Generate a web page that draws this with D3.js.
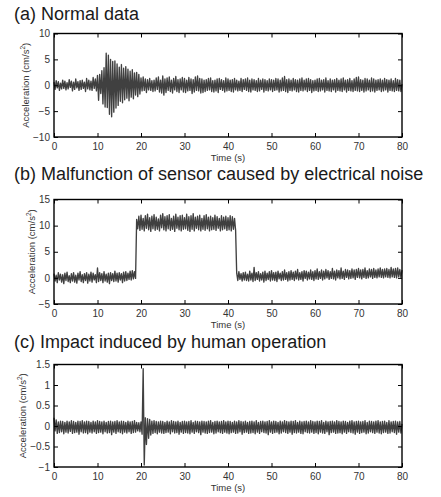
<!DOCTYPE html>
<html lang="en">
<head>
    <meta charset="UTF-8">
    <title>Acceleration records</title>
    <style>
        body { margin: 0; background: #fff; }
        svg { display: block; font-family: "Liberation Sans", Arial, Helvetica, sans-serif; }
        .tick text { fill: #333; font-size: 10px; }
        .tick line { stroke: #000; }
    </style>
</head>
<body>
    <div id="chart"></div>

    <script src="https://cdn.jsdelivr.net/npm/d3@7"></script>

    <script>
        // sample spacing of the records (s)
        const sampleStep = 0.25;

        const titles = [
            "(a) Normal data",
            "(b) Malfunction of sensor caused by electrical noise",
            "(c) Impact induced by human operation"
        ];

        const xTicks = [0, 10, 20, 30, 40, 50, 60, 70, 80];
        const yTicksA = [-10, -5, 0, 5, 10];
        const yTicksB = [-5, 0, 5, 10, 15];
        const yTicksC = [-1, -0.5, 0, 0.5, 1, 1.5];

        // (a) normal record
        const accelA = [
            0.6,-0.8,0.9,-0.5, 0.7,-1.0,0.4,-0.7, 1.0,-0.6,0.8,-0.9, 0.5,-0.7,1.1,-0.4, 0.8,-1.1,0.6,-0.8,
            1.2,-0.5,0.7,-1.0, 0.9,-0.8,1.0,-0.6, 0.6,-1.2,1.3,-0.7, 1.0,-0.9,0.8,-1.0, 1.5,-0.6,1.2,-1.1,
            1.9,-2.9,2.1,-1.6, 2.8,-3.6,3.4,-4.2, 6.2,-4.3,5.8,-5.6, 5.0,-6.1,4.6,-5.2, 4.7,-4.4,4.1,-3.9,
            3.5,-3.1,4.0,-3.4, 3.3,-2.8,3.6,-2.5, 3.1,-3.0,2.7,-2.3, 3.0,-2.6,2.4,-1.9, 2.5,-2.2,2.1,-1.7,
            1.4,-1.1,1.6,-1.0, 1.2,-1.4,1.1,-0.9, 1.3,-1.0,0.9,-1.2, 1.0,-1.1,1.4,-0.8, 1.6,-1.3,1.0,-1.5,
            1.8,-1.9,1.2,-1.4, 1.4,-1.0,1.6,-1.2, 1.0,-1.5,1.3,-0.9, 1.7,-1.2,1.1,-1.4, 1.2,-0.9,1.5,-1.3,
            1.3,-1.4,1.0,-1.1, 1.5,-1.0,1.2,-1.6, 1.1,-1.3,1.6,-1.0, 1.8,-1.1,1.3,-1.5, 1.2,-1.4,1.0,-1.2,
            1.1,-1.0,1.3,-0.9, 1.4,-1.2,0.9,-1.3, 1.0,-1.1,1.2,-1.4, 1.3,-0.8,1.1,-1.0, 0.9,-1.3,1.4,-1.1,
            1.2,-1.0,1.0,-1.2, 1.1,-1.3,1.3,-0.9, 1.0,-1.1,0.8,-1.0, 1.3,-1.2,1.1,-0.8, 1.2,-1.0,1.4,-1.2,
            1.0,-1.3,1.2,-0.9, 1.1,-1.0,0.9,-1.2, 1.3,-1.1,1.0,-0.8, 1.2,-1.3,1.1,-1.0, 0.9,-1.1,1.2,-0.9,
            1.1,-1.2,1.0,-1.0, 1.3,-0.9,1.2,-1.3, 1.0,-1.1,1.4,-1.0, 1.7,-1.2,1.1,-1.4, 1.2,-1.0,1.0,-1.1,
            1.3,-0.9,1.1,-1.2, 1.0,-1.3,1.2,-1.0, 1.4,-1.1,1.0,-0.9, 1.2,-1.2,1.3,-1.0, 1.1,-1.4,0.9,-1.1,
            1.0,-1.0,1.2,-1.2, 1.3,-1.1,1.0,-0.9, 1.1,-1.3,1.4,-1.0, 0.9,-1.1,1.2,-1.2, 1.0,-0.9,1.1,-1.3,
            1.3,-1.0,1.0,-1.1, 1.2,-1.2,1.4,-0.9, 1.0,-1.3,1.1,-1.0, 1.3,-1.1,0.9,-1.2, 1.2,-1.0,1.5,-1.1,
            1.6,-1.2,1.1,-1.0, 1.0,-1.3,1.3,-1.1, 1.2,-0.9,1.0,-1.2, 1.4,-1.1,1.2,-1.3, 1.0,-1.0,1.1,-0.9,
            1.2,-1.2,1.0,-1.1, 1.3,-0.9,1.1,-1.3, 1.0,-1.0,1.2,-1.1, 0.9,-1.2,1.3,-1.0, 1.1,-1.1,1.0,-1.2,
            0.2
        ];

        // (b) sensor offset between ~19 s and ~42 s
        const accelB = [
            0.8,-0.6,0.5,-0.9, 1.0,-0.4,0.7,-0.8, 0.6,-1.1,0.9,-0.5, 1.1,-0.7,0.4,-0.9, 0.8,-0.6,1.0,-0.8,
            0.5,-1.0,0.9,-0.4, 1.2,-0.7,0.6,-0.9, 0.8,-0.5,1.0,-1.0, 0.7,-0.6,1.1,-0.8, 0.9,-0.4,0.6,-0.9,
            1.9,-0.7,1.0,-0.5, 0.8,-0.9,1.2,-0.6, 0.7,-0.8,0.9,-1.1, 1.0,-0.5,0.8,-0.7, 1.3,-0.6,0.9,-0.8,
            1.0,-0.4,0.8,-0.9, 1.1,-0.6,1.2,-0.5, 0.9,-0.3,1.3,-0.4, 1.4,-0.2,1.2,-0.1,
            11.2,9.4,11.8,9.1,
            12.0,9.3,11.4,9.0, 11.9,9.5,12.2,9.2, 11.5,8.9,11.8,9.4, 12.1,9.1,11.6,9.3, 11.3,9.0,12.0,9.6,
            12.3,9.2,11.7,9.0, 11.9,9.4,12.1,9.1, 11.4,9.3,11.8,8.9, 12.2,9.5,11.6,9.2, 11.9,9.0,12.0,9.3,
            11.5,9.4,12.2,9.1, 11.7,8.9,11.9,9.3, 12.3,9.0,11.6,9.5, 11.8,9.2,12.0,9.0, 11.4,9.3,11.9,9.1,
            12.1,9.4,11.6,9.0, 11.8,9.2,11.5,9.3, 12.0,9.1,11.7,9.5, 11.4,9.0,11.9,9.2, 11.6,9.4,11.8,9.1,
            11.5,9.2,11.9,9.0, 11.7,9.3,11.4,9.1,
            0.9,-0.5,1.2,-0.3, 0.8,-0.6,1.0,-0.4, 1.1,-0.5,0.7,-0.6,
            1.3,-0.4,0.9,-0.7, 2.0,-0.5,1.0,-0.3, 1.2,-0.6,0.8,-0.4, 1.1,-0.8,1.3,-0.5, 0.9,-0.3,1.2,-0.6,
            1.4,-0.4,1.0,-0.5, 1.1,-0.7,1.3,-0.2, 0.9,-0.5,1.2,-0.4, 1.5,-0.3,1.0,-0.6, 1.2,-0.4,1.4,-0.3,
            1.1,-0.5,1.3,-0.2, 1.6,-0.4,1.0,-0.3, 1.2,-0.6,1.4,-0.1, 1.3,-0.4,1.1,-0.2, 1.5,-0.3,1.2,-0.5,
            1.4,-0.2,1.7,-0.3, 1.2,-0.1,1.5,-0.4, 1.3,-0.2,1.6,0.0, 1.4,-0.3,1.2,-0.1, 1.8,-0.2,1.3,-0.4,
            1.5,0.0,1.4,-0.2, 1.9,-0.1,1.3,-0.3, 1.6,0.1,1.5,-0.2, 1.4,-0.1,1.7,0.0, 1.5,-0.3,1.6,0.1,
            1.8,0.0,1.5,-0.2, 1.6,0.1,1.9,-0.1, 1.4,0.0,1.7,0.2, 1.6,-0.1,1.8,0.1, 1.5,0.0,1.7,0.2,
            1.9,0.1,1.6,0.0, 1.7,0.2,1.8,0.1, 1.6,0.0,2.0,0.2, 1.7,0.1,1.8,0.0, 1.9,0.2,1.6,0.1,
            1.5
        ];

        // (c) impact spike near 20.5 s
        const accelC = [
            0.20,-0.12,0.15,-0.18, 0.10,-0.16,0.12,-0.14, 0.11,-0.19,0.09,-0.15, 0.12,-0.17,0.10,-0.13, 0.13,-0.18,0.11,-0.16,
            0.09,-0.15,0.12,-0.20, 0.11,-0.14,0.13,-0.17, 0.10,-0.16,0.12,-0.19, 0.11,-0.15,0.09,-0.17, 0.12,-0.14,0.10,-0.18,
            0.13,-0.16,0.11,-0.15, 0.10,-0.19,0.12,-0.14, 0.09,-0.17,0.11,-0.16, 0.12,-0.21,0.10,-0.15, 0.11,-0.18,0.13,-0.14,
            0.10,-0.16,0.12,-0.19, 0.11,-0.15,0.09,-0.17, 0.12,-0.14,0.10,-0.18, 0.11,-0.16,0.13,-0.15, 0.09,-0.12,0.08,-0.14,
            0.10,-0.20,1.40,-0.95, 0.20,-0.45,0.18,-0.30, 0.16,-0.22,0.12,-0.18, 0.13,-0.16,0.11,-0.19, 0.10,-0.15,0.12,-0.17,
            0.11,-0.18,0.09,-0.16, 0.12,-0.15,0.10,-0.19, 0.13,-0.14,0.11,-0.17, 0.10,-0.16,0.12,-0.20, 0.09,-0.15,0.11,-0.18,
            0.12,-0.16,0.10,-0.17, 0.11,-0.19,0.13,-0.15, 0.09,-0.18,0.12,-0.14, 0.11,-0.16,0.10,-0.21, 0.12,-0.15,0.11,-0.17,
            0.10,-0.18,0.12,-0.16, 0.13,-0.15,0.09,-0.19, 0.11,-0.17,0.12,-0.14, 0.10,-0.16,0.11,-0.18, 0.13,-0.15,0.10,-0.17,
            0.12,-0.19,0.11,-0.16, 0.09,-0.15,0.12,-0.18, 0.10,-0.17,0.13,-0.14, 0.11,-0.20,0.10,-0.16, 0.12,-0.15,0.09,-0.18,
            0.11,-0.17,0.12,-0.16, 0.10,-0.19,0.13,-0.15, 0.09,-0.18,0.11,-0.14, 0.12,-0.16,0.10,-0.17, 0.11,-0.21,0.13,-0.15,
            0.10,-0.18,0.12,-0.16, 0.11,-0.15,0.09,-0.19, 0.12,-0.17,0.10,-0.14, 0.13,-0.16,0.11,-0.18, 0.10,-0.15,0.12,-0.20,
            0.11,-0.16,0.13,-0.17, 0.09,-0.15,0.12,-0.18, 0.10,-0.19,0.11,-0.14, 0.12,-0.16,0.10,-0.17, 0.13,-0.15,0.11,-0.18,
            0.10,-0.16,0.12,-0.19, 0.11,-0.15,0.13,-0.17, 0.09,-0.18,0.12,-0.14, 0.10,-0.21,0.11,-0.16, 0.12,-0.15,0.10,-0.18,
            0.13,-0.17,0.11,-0.16, 0.10,-0.19,0.12,-0.15, 0.11,-0.18,0.09,-0.14, 0.12,-0.16,0.13,-0.17, 0.10,-0.20,0.11,-0.15,
            0.12,-0.18,0.10,-0.16, 0.11,-0.15,0.13,-0.19, 0.09,-0.17,0.12,-0.14, 0.11,-0.16,0.10,-0.18, 0.12,-0.15,0.13,-0.17,
            0.10,-0.19,0.11,-0.16, 0.12,-0.15,0.09,-0.18, 0.13,-0.17,0.10,-0.14, 0.11,-0.16,0.12,-0.20, 0.10,-0.15,0.11,-0.17,
            0.05
        ];

        const width = 441;
        const height = 497;
        const plotLeft = 54;
        const plotRight = 402;

        // one entry per panel: data + where it sits on the page
        const panels = [
            { title: titles[0], values: accelA, domain: [-10, 10], ticks: yTicksA, top: 33.5, bottom: 137, titleY: 19.5 },
            { title: titles[1], values: accelB, domain: [-5, 15], ticks: yTicksB, top: 199.5, bottom: 304, titleY: 180 },
            { title: titles[2], values: accelC, domain: [-1, 1.5], ticks: yTicksC, top: 364.5, bottom: 467, titleY: 348 }
        ];

        const svg = d3.select("#chart").append("svg")
            .attr("width", width)
            .attr("height", height);

        const x = d3.scaleLinear().domain([0, 80]).range([plotLeft, plotRight]);
        const fmt = d => String(d).replace("-", "\u2212");

        panels.forEach(p => {
            const y = d3.scaleLinear().domain(p.domain).range([p.bottom, p.top]);
            const g = svg.append("g");

            g.append("text")
                .attr("x", 14)
                .attr("y", p.titleY)
                .attr("font-size", 18)
                .attr("fill", "#1a1a1a")
                .text(p.title);

            const line = d3.line()
                .x((d, i) => x(i * sampleStep))
                .y(d => y(d));

            g.append("path")
                .datum(p.values)
                .attr("fill", "none")
                .attr("stroke", "#404040")
                .attr("stroke-width", 1.35)
                .attr("stroke-linejoin", "round")
                .attr("d", line);

            // MATLAB style: ticks pointing inwards on all four sides
            g.append("g")
                .attr("transform", `translate(0,${p.bottom})`)
                .call(d3.axisBottom(x).tickValues(xTicks).tickSizeInner(-4).tickSizeOuter(0).tickPadding(6));
            g.append("g")
                .attr("transform", `translate(0,${p.top})`)
                .call(d3.axisTop(x).tickValues(xTicks).tickSizeInner(-4).tickSizeOuter(0).tickFormat(""));
            const leftAxis = g.append("g")
                .attr("transform", `translate(${plotLeft},0)`)
                .call(d3.axisLeft(y).tickValues(p.ticks).tickSizeInner(-4).tickSizeOuter(0).tickPadding(4).tickFormat(fmt));
            g.append("g")
                .attr("transform", `translate(${plotRight},0)`)
                .call(d3.axisRight(y).tickValues(p.ticks).tickSizeInner(-4).tickSizeOuter(0).tickFormat(""));

            g.selectAll(".domain").remove();

            g.append("rect")
                .attr("x", plotLeft)
                .attr("y", p.top)
                .attr("width", plotRight - plotLeft)
                .attr("height", p.bottom - p.top)
                .attr("fill", "none")
                .attr("stroke", "#000")
                .attr("stroke-width", 1.4);

            g.append("text")
                .attr("x", (plotLeft + plotRight) / 2)
                .attr("y", p.bottom + 24)
                .attr("text-anchor", "middle")
                .attr("font-size", 9.5)
                .attr("fill", "#333")
                .text("Time (s)");

            // y label sits just left of the widest tick label
            const box = leftAxis.node().getBBox();
            const labelX = plotLeft + box.x - 4;
            const yl = g.append("text")
                .attr("transform", `translate(${labelX},${(p.top + p.bottom) / 2}) rotate(-90)`)
                .attr("text-anchor", "middle")
                .attr("font-size", 9.5)
                .attr("fill", "#333");
            yl.append("tspan").text("Acceleration (cm/s");
            yl.append("tspan").attr("font-size", 6.5).attr("dy", -4).text("2");
            yl.append("tspan").attr("dy", 4).text(")");
        });
    </script>
</body>
</html>
